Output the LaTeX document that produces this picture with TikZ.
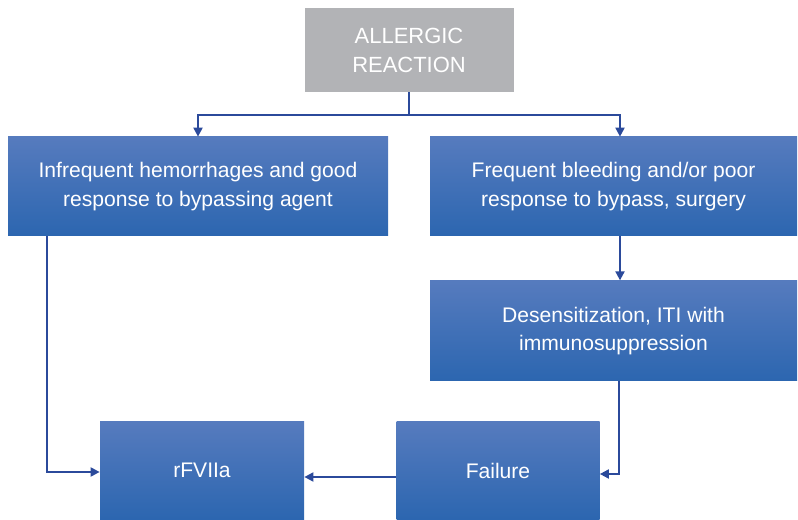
\documentclass[tikz,border=0pt]{standalone}
\usepackage{fontspec}
\setmainfont{Liberation Sans}
\usepackage{xcolor}
\usepackage{tikz}
\usetikzlibrary{arrows.meta,positioning}

\definecolor{boxtop}{RGB}{86,123,190}
\definecolor{boxbot}{RGB}{44,102,176}
\definecolor{headgray}{RGB}{178,179,182}
\definecolor{linkblue}{RGB}{43,74,155}

\begin{document}
\begin{tikzpicture}[
  box/.style={rectangle, align=center, text=white, font=\fontsize{12}{16}\selectfont, top color=boxtop, bottom color=boxbot, inner sep=2pt},
  headbox/.style={rectangle, align=center, text=white, font=\fontsize{12.5}{16.5}\selectfont, fill=headgray, inner sep=2pt},
  arrow/.style={-{Triangle[length=1.8mm, width=1.8mm]}, draw=linkblue, line width=1.1pt},
  link/.style={draw=linkblue, line width=1.1pt}
]
\useasboundingbox (0,0) rectangle (15.96,-10.4);

\node[headbox, minimum width=4.18cm, minimum height=1.68cm] (allergic) at (8.18,-1.0) {ALLERGIC\\REACTION};
\node[box, minimum width=7.6cm, minimum height=1.98cm] (infrequent) at (3.96,-3.73) {Infrequent hemorrhages and good\\response to bypassing agent};
\node[box, minimum width=7.34cm, minimum height=1.98cm] (frequent) at (12.27,-3.73) {Frequent bleeding and/or poor\\response to bypass, surgery};
\node[box, minimum width=7.34cm, minimum height=2cm, below=0.88cm of frequent] (desens) {Desensitization, ITI with\\immunosuppression};
\node[box, minimum width=4.08cm, minimum height=1.94cm] (rfviia) at (4.04,-9.41) {rFVIIa};
\node[box, minimum width=4.06cm, minimum height=1.94cm] (failure) at (9.96,-9.41) {Failure};

\draw[link] (allergic.south) -- ++(0,-0.46) coordinate (split);
\draw[arrow] (split) -| (infrequent.north);
\draw[arrow] (split) -| ([xshift=0.13cm]frequent.north);
\draw[arrow] ([xshift=0.13cm]frequent.south) -- ([xshift=0.13cm]desens.north);
\draw[arrow] ([xshift=-3.02cm]infrequent.south) |- ([yshift=-0.03cm]rfviia.west);
\draw[arrow] ([xshift=0.11cm]desens.south) |- ([yshift=-0.07cm]failure.east);
\draw[arrow] ([yshift=-0.13cm]failure.west) -- ([yshift=-0.13cm]rfviia.east);
\end{tikzpicture}
\end{document}
